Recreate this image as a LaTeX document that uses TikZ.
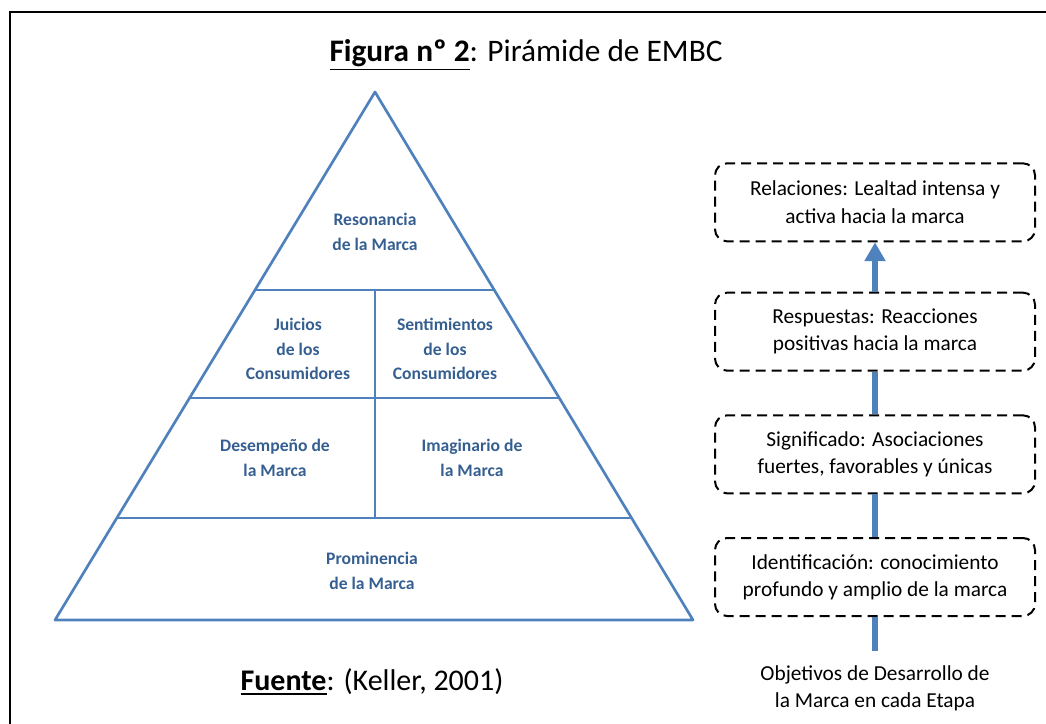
\documentclass[tikz,border=0pt]{standalone}
\usepackage{fontspec}
\setmainfont{Carlito}
\usetikzlibrary{positioning,arrows.meta}
\definecolor{pyrblue}{RGB}{79,129,189}
\definecolor{txtblue}{RGB}{54,95,145}
\newcommand{\undl}[1]{\leavevmode\vtop{\hbox{#1}\kern1.2pt\hrule height1.4pt}}

\begin{document}
\begin{tikzpicture}[% styles for the whole figure
		x=0.75pt,y=-0.75pt,	% pixel grid, y going down
		every node/.style={
			align=center		% so that "\\" breaks lines
		},
		pyr/.style={draw=pyrblue,line width=2pt,line join=round},
		lbl/.style={text=txtblue,font=\fontsize{13.2}{18.4}\selectfont\bfseries},
		goal/.style={rectangle,rounded corners=9pt,draw=black,dash pattern=on 7.5pt off 4.5pt,
			line width=1.5pt,fill=white,minimum width=240pt,minimum height=58.5pt,
			font=\fontsize{16}{20.5}\selectfont},
		up/.style={draw=pyrblue,line width=4.5pt}
	]
	\useasboundingbox (0,0) rectangle (1046,724);
	\draw[line width=2.2pt] (1046,12) -- (10,12) -- (10,724);	% frame
	\node[font=\fontsize{23.5}{28}\selectfont](T1) at (526,55) {\undl{\textbf{Figura nº 2}}: Pirámide de EMBC};
	\node[font=\fontsize{22.5}{27}\selectfont](T2) at (372,682) {\undl{\textbf{Fuente}}: (Keller, 2001)};
	% pyramid
	\coordinate (A) at (375,92);
	\coordinate (BL) at (55,620);
	\coordinate (BR) at (693,620);
	\draw[pyr] (A) -- (BL) -- (BR) -- cycle;
	\draw[pyr] (255,290) -- (495,290);
	\draw[pyr] (190,398) -- (559,398);
	\draw[pyr] (117,518) -- (632,518);
	\draw[pyr] (375,290) -- (375,518);
	\node[lbl](L1) at (375,232) {Resonancia\\de la Marca};
	\node[lbl](L2) at (298,349) {Juicios\\de los\\Consumidores};
	\node[lbl](L3) at (445,349) {Sentimientos\\de los\\Consumidores};
	\node[lbl](L4) at (275,458) {Desempeño de\\la Marca};
	\node[lbl](L5) at (472,458) {Imaginario de\\la Marca};
	\node[lbl](L6) at (372,571) {Prominencia\\de la Marca};
	% stages
	\node[goal](B1) at (875,577) {Identificación: conocimiento\\profundo y amplio de la marca};
	\node[goal](B2)[above=32pt of B1]{Significado: Asociaciones\\fuertes, favorables y únicas};
	\node[goal](B3)[above=32pt of B2]{Respuestas: Reacciones\\positivas hacia la marca};
	\node[goal](B4)[above=37pt of B3]{Relaciones: Lealtad intensa y\\activa hacia la marca};
	\node[font=\fontsize{16}{20.5}\selectfont](O1) at (875,688) {Objetivos de Desarrollo de\\la Marca en cada Etapa};
	\path
	(O1) edge [up,shorten <=7pt] (B1)
	(B1) edge [up] (B2)
	(B2) edge [up] (B3)
	(B3) edge [up,-{Triangle[width=15pt,length=14pt]}] (B4)
	;
\end{tikzpicture}
\end{document}
